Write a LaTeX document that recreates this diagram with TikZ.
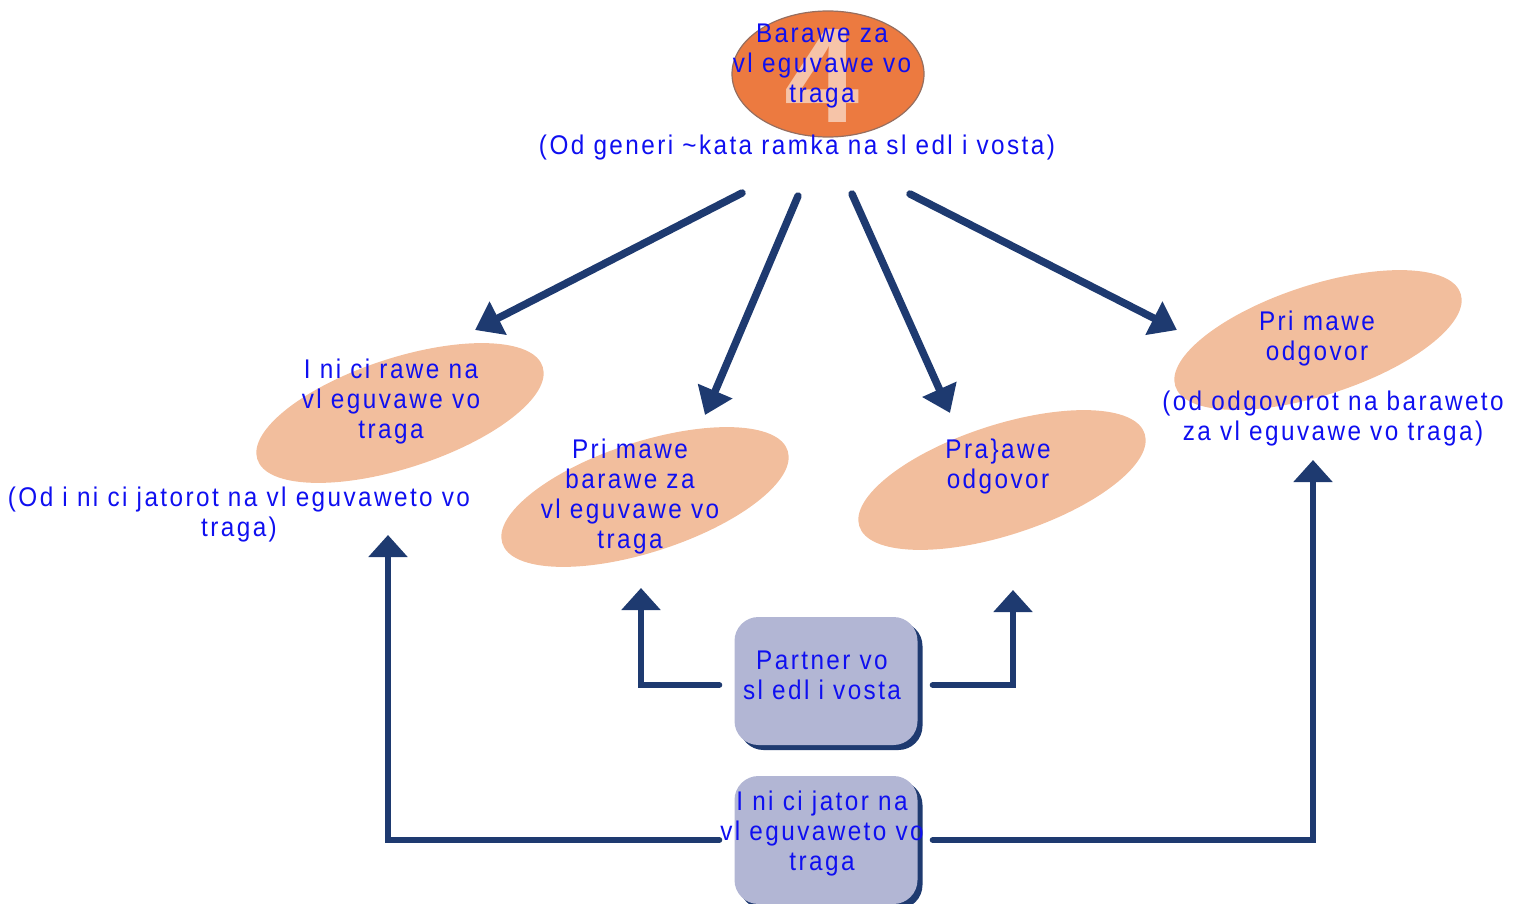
\documentclass[tikz,border=0pt]{standalone}
\usepackage{fontspec}
\setmainfont{Liberation Sans}[LetterSpace=9,FakeStretch=0.9]
\newfontfamily\fourfont{Liberation Sans}[Scale=1]
\usetikzlibrary{arrows.meta,shapes.geometric,shadows}
\definecolor{navy}{RGB}{30,58,112}
\definecolor{txtblue}{RGB}{15,15,240}
\definecolor{peach}{RGB}{242,190,157}
\definecolor{orangeE}{RGB}{236,122,64}
\definecolor{orangeB}{RGB}{150,110,95}
\definecolor{boxfill}{RGB}{178,182,212}
\definecolor{fourc}{RGB}{246,196,168}
\tikzset{
 lbl/.style={text=txtblue, align=center, font=\fontsize{27}{30}\selectfont, inner sep=0pt},
 blob/.style={ellipse, fill=peach, minimum width=300pt, minimum height=110pt, rotate=18, inner sep=0pt},
 conn/.style={draw=navy, line width=7.5pt, line cap=round, -{Triangle[width=36pt,length=26pt]}},
 elbow/.style={draw=navy, line width=6pt, line cap=round, -{Triangle[width=38pt,length=22pt]}},
 boxn/.style={rounded corners=24pt, fill=boxfill, minimum width=183pt, minimum height=128pt, inner sep=0pt,
   general shadow={fill=navy, shadow xshift=5pt, shadow yshift=-5pt}}
}
\begin{document}
\begin{tikzpicture}[x=1pt,y=1pt]
\useasboundingbox (0,0) rectangle (1513,-904);
% top ellipse
\node[ellipse, fill=orangeE, draw=orangeB, line width=1.2pt, minimum width=192pt, minimum height=126pt] (top) at (828,-74) {};
\node[text=fourc, font=\fourfont\fontsize{135}{135}\bfseries\selectfont, inner sep=0pt] (four) at (822,-76) {4};
\node[lbl] (toptxt) at (822,-66) {Barawe za\\vl eguvawe vo\\traga};
\node[lbl] (topsub) at (797,-148) {(Od generi \textasciitilde kata ramka na sl edl i vosta)};
% blobs
\node[blob] (e1) at (400,-413) {};
\node[blob] (e2) at (645,-497) {};
\node[blob] (e3) at (1002,-480) {};
\node[blob] (e4) at (1318,-340) {};
\node[lbl] (t1) at (391,-402) {I ni ci rawe na\\vl eguvawe vo\\traga};
\node[lbl] (s1) at (239,-515) {(Od i ni ci jatorot na vl eguvaweto vo\\traga)};
\node[lbl] (t2) at (630,-497) {Pri mawe\\barawe za\\vl eguvawe vo\\traga};
\node[lbl] (t3) at (998,-467) {Pra\}awe\\odgovor};
\node[lbl] (t4) at (1317,-339) {Pri mawe\\odgovor};
\node[lbl] (s4) at (1333,-419) {(od odgovorot na baraweto\\za vl eguvawe vo traga)};
% arrows from top
\coordinate (a1) at (742,-193); \coordinate (b1) at (475,-330);
\coordinate (a2) at (798,-196); \coordinate (b2) at (705,-415);
\coordinate (a3) at (852,-194); \coordinate (b3) at (950,-413);
\coordinate (a4) at (910,-194); \coordinate (b4) at (1177,-330);
\draw[conn] (a1) -- (b1);
\draw[conn] (a2) -- (b2);
\draw[conn] (a3) -- (b3);
\draw[conn] (a4) -- (b4);
% boxes
\node[boxn] (partner) at (826,-681) {};
\node[lbl] (ptxt) at (822,-675) {Partner vo\\sl edl i vosta};
\node[boxn] (init) at (826,-840) {};
\node[lbl] (itxt) at (822,-834) {I ni ci jator na\\vl eguvaweto vo\\traga};
\coordinate (pl) at (641,-588);
\coordinate (pr) at (1013,-590);
\coordinate (il) at (388,-535);
\coordinate (ir) at (1313,-460);
\draw[elbow] ([xshift=-15pt,yshift=-4pt]partner.west) -| (pl);
\draw[elbow] ([xshift=15pt,yshift=-4pt]partner.east) -| (pr);
\draw[elbow] ([xshift=-15pt]init.west) -| (il);
\draw[elbow] ([xshift=15pt]init.east) -| (ir);
\end{tikzpicture}
\end{document}
